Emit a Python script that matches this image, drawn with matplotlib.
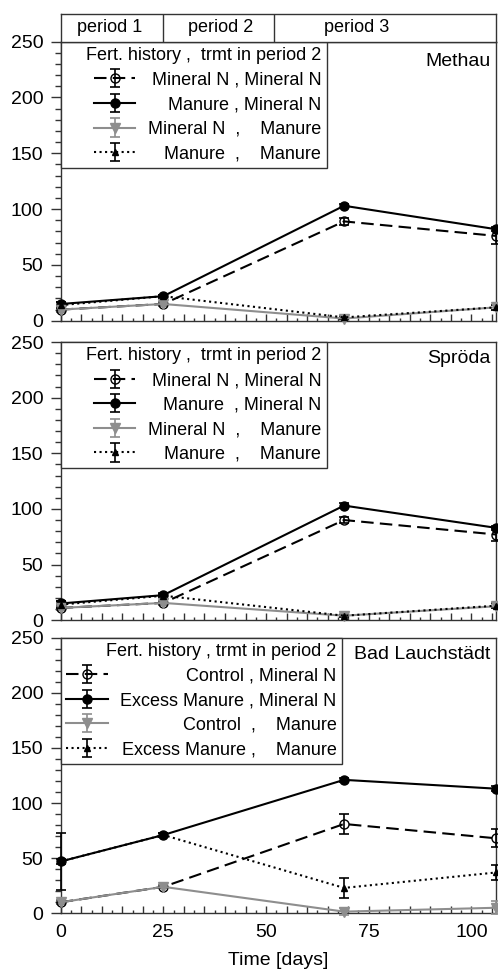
import matplotlib
matplotlib.use('Agg')
import matplotlib.pyplot as plt
from matplotlib.ticker import MultipleLocator, FuncFormatter

plt.rcParams['font.family'] = ['Liberation Sans', 'DejaVu Sans']

# ---------------- data ----------------
days = [0, 25, 69, 106]

sites = ['Methau', 'Spröda', 'Bad Lauchstädt']

legend_titles = ['    Fert. history ,  trmt in period 2',
                 '    Fert. history ,  trmt in period 2',
                 'Fert. history , trmt in period 2']

series_labels = [
    ['Mineral N , Mineral N', 'Manure , Mineral N', 'Mineral N  ,    Manure', 'Manure  ,    Manure'],
    ['Mineral N , Mineral N', 'Manure  , Mineral N', 'Mineral N  ,    Manure', 'Manure  ,    Manure'],
    ['Control , Mineral N', 'Excess Manure , Mineral N', 'Control  ,    Manure', 'Excess Manure ,    Manure'],
]

# Methau
methau_vals = [[10, 15, 89, 76], [15, 22, 103, 82], [10, 15, 2, 12], [14, 22, 3, 12]]
methau_errs = [[2, 1.5, 3, 7], [2, 1.5, 2, 2], [2, 1.5, 1.5, 2], [3, 1.5, 1, 2]]
# Spröda
sproda_vals = [[11, 15.5, 90, 77], [15, 22.5, 103, 83], [11, 15.5, 4, 12.5], [14, 22, 4, 13]]
sproda_errs = [[2, 1.5, 3, 6], [2, 1.5, 2, 2], [2, 1.5, 1.5, 2], [3, 1.5, 1, 2]]
# Bad Lauchstädt
bad_vals = [[10, 24, 81, 68], [47, 71, 121, 113], [10, 24, 1.5, 5], [47, 71, 23, 37]]
bad_errs = [[2, 1.5, 9, 8], [2, 1.5, 1.5, 2], [2, 1.5, 3.5, 6], [26, 1.5, 9, 7]]

all_vals = [methau_vals, sproda_vals, bad_vals]
all_errs = [methau_errs, sproda_errs, bad_errs]

period_names = ['period 1', 'period 2', 'period 3']
period_bounds = [25, 52]
period_label_x = [12, 39, 72]

# ---------------- styles ----------------
gray = '#8e8e8e'
styles = [
    dict(color='black', ls=(0, (6, 3)), marker='o', mfc='none', mec='black', ms=6.5),
    dict(color='black', ls='-', marker='o', mfc='black', mec='black', ms=6.5),
    dict(color=gray, ls='-', marker='v', mfc=gray, mec=gray, ms=6.5),
    dict(color='black', ls=':', marker='^', mfc='black', mec='black', ms=5),
]
spine_col = '#333333'

fig = plt.figure(figsize=(4.98, 9.69), dpi=100)
L, R = 0.1219, 0.996
rects = [(0.669, 0.957), (0.360, 0.647), (0.0575, 0.342)]
site_y = [0.928, 0.94, 0.94]

legends = []
axes = []
for i, (b, t) in enumerate(rects):
    ax = fig.add_axes([L, b, R - L, t - b])
    axes.append(ax)
    handles = []
    for k in range(4):
        st = styles[k]
        c = ax.errorbar(days, all_vals[i][k], yerr=all_errs[i][k],
                        color=st['color'], ecolor=st['color'], ls=st['ls'], lw=1.5,
                        marker=st['marker'], mfc=st['mfc'], mec=st['mec'], ms=st['ms'],
                        capsize=3.5, elinewidth=1.2, capthick=1.2, clip_on=False, zorder=3)
        for art in c.get_children():
            art.set_clip_on(False)
        handles.append(c)
    ax.set_xlim(0, 106)
    ax.set_ylim(0, 250)
    ax.yaxis.set_major_locator(MultipleLocator(50))
    ax.yaxis.set_minor_locator(MultipleLocator(10))
    ax.xaxis.set_major_locator(MultipleLocator(5))
    ax.xaxis.set_minor_locator(MultipleLocator(2.5))
    ax.xaxis.set_major_formatter(FuncFormatter(lambda v, p: f'{int(round(v))}' if abs(v % 25) < 1e-6 else ''))
    ax.tick_params(axis='y', which='major', direction='out', length=7, width=1, pad=5.5,
                   labelsize=14, color=spine_col)
    ax.tick_params(axis='y', which='minor', direction='out', length=4, width=1, color=spine_col)
    ax.tick_params(axis='x', which='major', direction='in', length=5, width=1, pad=8,
                   labelsize=14, color=spine_col)
    ax.tick_params(axis='x', which='minor', direction='in', length=2.5, width=1, color=spine_col)
    if i < 2:
        ax.tick_params(axis='x', labelbottom=False)
    for s in ax.spines.values():
        s.set_color(spine_col)
        s.set_linewidth(1.0)
    ax.text(0.988, site_y[i], sites[i], transform=ax.transAxes, ha='right', va='center', fontsize=14)
    leg = ax.legend(handles, series_labels[i], loc='upper left', bbox_to_anchor=(0, 1),
                    borderaxespad=0, fontsize=13, title=legend_titles[i], title_fontsize=13,
                    alignment='right', frameon=True, fancybox=False, edgecolor=spine_col,
                    framealpha=1, handlelength=2.3, handletextpad=0.7, labelspacing=0.42,
                    borderpad=0.3, numpoints=1)
    leg.get_frame().set_linewidth(1.0)
    legends.append(leg)

axes[-1].set_xlabel('Time [days]', fontsize=14, labelpad=7.5)

# header with periods
hax = fig.add_axes([L, 0.957, R - L, 0.0289])
hax.set_xlim(0, 106)
hax.set_ylim(0, 1)
hax.set_xticks([])
hax.set_yticks([])
for s in hax.spines.values():
    s.set_color(spine_col)
    s.set_linewidth(1.0)
for bnd in period_bounds:
    hax.axvline(bnd, color=spine_col, lw=1.0)
for name, xp in zip(period_names, period_label_x):
    hax.text(xp, 0.5, name, ha='center', va='center', fontsize=13)

# right-align legend texts while keeping handles left-aligned
fig.canvas.draw()
r = fig.canvas.get_renderer()
p2p = r.points_to_pixels(1.0)
for leg in legends:
    col = leg._legend_handle_box.get_children()[0]
    rows = col.get_children()
    widths = [row.get_children()[1].get_bbox(r).width for row in rows]
    mw = max(widths)
    for row, w in zip(rows, widths):
        h = row.get_children()[0]
        h.width = h.width + (mw - w) / p2p

fig.savefig('out.png', dpi=100)
